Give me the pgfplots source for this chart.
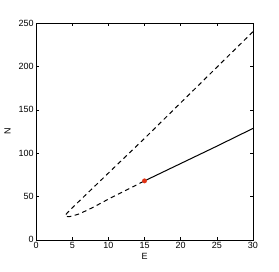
\documentclass[border=0pt]{standalone}
\usepackage{pgfplots}
\pgfplotsset{compat=1.18}
\usepackage{fontspec}
\setmainfont{Liberation Sans}
\definecolor{dotred}{RGB}{225,50,20}
\begin{document}
\begin{tikzpicture}
\begin{axis}[
  scale only axis,
  width=216bp, height=216bp,
  xmin=0, xmax=30, ymin=0, ymax=250,
  xtick={0,5,...,30}, ytick={0,50,...,250},
  tick align=inside,
  major tick length=3bp,
  xtick pos=both, ytick pos=both,
  tick label style={font=\fontsize{9}{10}\selectfont},
  xticklabel style={yshift=1bp},
  yticklabel style={xshift=1bp},
  label style={font=\fontsize{9}{10}\selectfont},
  /pgf/number format/assume math mode=true,
  xlabel={E}, ylabel={N},
  xlabel style={yshift=2bp},
  ylabel style={yshift=1bp},
  axis line style={line width=0.6bp},
  every tick/.style={black, line width=0.5bp},
  clip=false,
]
\addplot[black, line width=1bp, dash pattern=on 4.5bp off 3.5bp] coordinates {
(30,240) (25,199) (20,158) (15,117) (10,77) (8,61) (6,45) (5,37) (4.3,31) (4.0,28)
(4.2,27) (4.6,26.8) (5,27.5) (6,30) (8,38) (10,47) (12.5,57.5) (15,68)
};
\addplot[black, line width=1bp] coordinates {
(15,68) (20,88) (25,108) (30,128.5)
};
\addplot[only marks, mark=*, mark size=2.2bp, color=dotred] coordinates {(15,68)};
\end{axis}
\path (current axis.north east) ++(26bp,23bp);
\path (current axis.south west) ++(-36bp,-32bp);
\end{tikzpicture}
\end{document}
